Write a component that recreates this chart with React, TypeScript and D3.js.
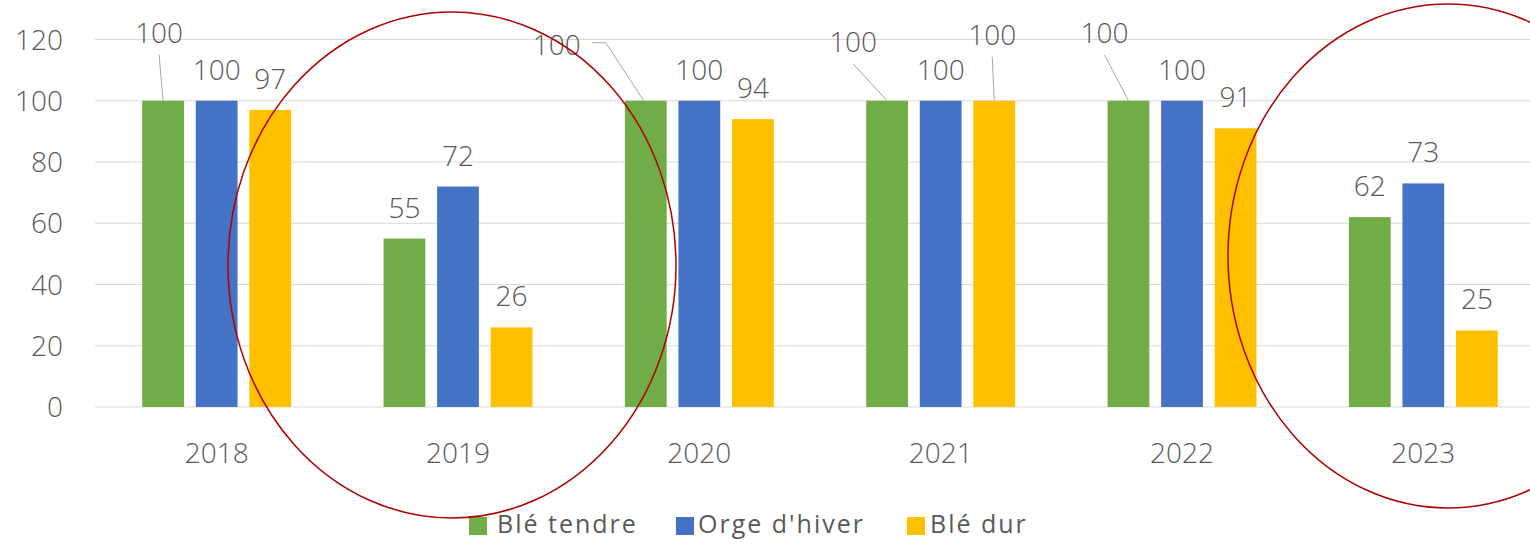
import { useEffect } from 'react'
import { scaleBand, scaleLinear } from 'd3'

const years = ['2018', '2019', '2020', '2021', '2022', '2023']
const seriesNames = ['Blé tendre', "Orge d'hiver", 'Blé dur']
const bleTendre = [100, 55, 100, 100, 100, 62]
const orgeHiver = [100, 72, 100, 100, 100, 73]
const bleDur = [97, 26, 94, 100, 91, 25]
const yTicks = [0, 20, 40, 60, 80, 100, 120]
const colors = ['#70ad47', '#4472c4', '#ffc000']

// labels that were dragged away from their bar (with a leader line)
const movedLabels = [
  { year: '2018', serie: 0, dx: -4, dy: -37, kind: 'below' },
  { year: '2020', serie: 0, dx: -89, dy: -25, kind: 'side' },
  { year: '2021', serie: 0, dx: -34, dy: -28, kind: 'below' },
  { year: '2021', serie: 2, dx: -2, dy: -35, kind: 'below' },
  { year: '2022', serie: 0, dx: -24, dy: -37, kind: 'below' },
]

// red circles drawn over the chart: [cx, cy, rx, ry]
const circles = [
  [452, 265, 224, 253],
  [1448, 256, 220, 252],
]

const W = 1530
const H = 545
const font = '"Open Sans", sans-serif'
const textColor = '#595959'

export default function App() {
  useEffect(() => {
    document.body.style.margin = '0'
  }, [])

  const values = [bleTendre, orgeHiver, bleDur]
  const x0 = scaleBand<string>().domain(years).range([96, 1544]).paddingInner(0.383).paddingOuter(0.1915)
  const x1 = scaleBand<number>().domain([0, 1, 2]).range([0, x0.bandwidth()]).paddingInner(0.22)
  const y = scaleLinear().domain([0, 120]).range([407, 39.5])

  // legend swatch / text positions
  const legendX = [469, 676, 907]
  const legendTextX = [497, 698, 930]

  return (
    <svg width={W} height={H} style={{ display: 'block', fontFamily: font }}>
      <rect width={W} height={H} fill="#fff" />
      {yTicks.map((t) => (
        <g key={t}>
          <line x1={95} x2={W} y1={y(t)} y2={y(t)} stroke="#d9d9d9" strokeWidth={1.2} />
          <text x={63} y={y(t)} dy="0.36em" textAnchor="end" fontSize={28} fill={textColor} fontWeight={300}>
            {t}
          </text>
        </g>
      ))}
      {years.map((yr, i) => (
        <g key={yr}>
          {values.map((vals, s) => {
            const bx = x0(yr)! + x1(s)!
            const cx = bx + x1.bandwidth() / 2
            const top = y(vals[i])
            const moved = movedLabels.find((m) => m.year === yr && m.serie === s)
            const lx = cx + (moved ? moved.dx : 0)
            const ly = top - 21 + (moved ? moved.dy : 0)
            let leader = null
            if (moved && moved.kind === 'below') {
              leader = <line x1={lx} y1={ly + 12} x2={cx} y2={top} stroke="#a6a6a6" strokeWidth={1} />
            } else if (moved && moved.kind === 'side') {
              const sx = lx + 35
              const sy = ly - 12
              leader = (
                <polyline
                  points={`${sx},${sy} ${sx + 14},${sy} ${cx - 2},${top}`}
                  fill="none"
                  stroke="#a6a6a6"
                  strokeWidth={1}
                />
              )
            }
            return (
              <g key={s}>
                <rect x={bx} y={top} width={x1.bandwidth()} height={y(0) - top} fill={colors[s]} />
                {leader}
                <text x={lx} y={ly} textAnchor="middle" fontSize={28} fill={textColor} fontWeight={300}>
                  {vals[i]}
                </text>
              </g>
            )
          })}
          <text
            x={x0(yr)! + x0.bandwidth() / 2}
            y={463}
            textAnchor="middle"
            fontSize={28}
            fill={textColor}
            fontWeight={300}
          >
            {yr}
          </text>
        </g>
      ))}
      {seriesNames.map((n, s) => (
        <g key={n}>
          <rect x={legendX[s]} y={517} width={18} height={18} fill={colors[s]} />
          <text x={legendTextX[s]} y={533} fontSize={25} fill={textColor} letterSpacing={2}>
            {n}
          </text>
        </g>
      ))}
      {circles.map((c, i) => (
        <ellipse key={i} cx={c[0]} cy={c[1]} rx={c[2]} ry={c[3]} fill="none" stroke="#b00000" strokeWidth={1.5} />
      ))}
    </svg>
  )
}
